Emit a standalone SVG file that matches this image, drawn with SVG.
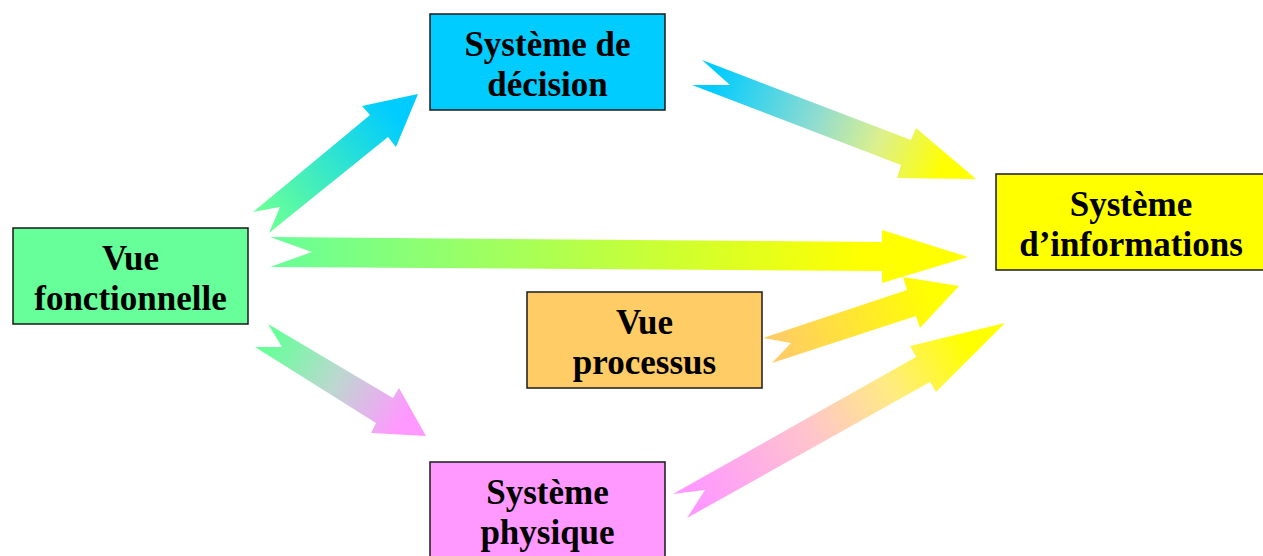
<svg xmlns="http://www.w3.org/2000/svg" width="1263" height="556" viewBox="0 0 1263 556">
<style>
.box{stroke:#1a1a1a;stroke-width:1.5}
.lbl{font-family:"Liberation Serif","Times New Roman",serif;font-weight:bold;font-size:35px;fill:#000;text-anchor:middle}
</style>
<defs>
<linearGradient id="g1" gradientUnits="userSpaceOnUse" x1="262" y1="222" x2="418" y2="94"><stop offset="0.05" stop-color="#66FF99"/><stop offset="0.85" stop-color="#00CCFF"/></linearGradient>
<linearGradient id="g2" gradientUnits="userSpaceOnUse" x1="700" y1="72" x2="976" y2="179"><stop offset="0.05" stop-color="#00CCFF"/><stop offset="0.42" stop-color="#8FDCD0"/><stop offset="0.65" stop-color="#DDF08C"/><stop offset="0.88" stop-color="#FFFF00"/></linearGradient>
<linearGradient id="g3" gradientUnits="userSpaceOnUse" x1="270" y1="252" x2="968" y2="257"><stop offset="0" stop-color="#66FF99"/><stop offset="0.85" stop-color="#FFFF00"/></linearGradient>
<linearGradient id="g4" gradientUnits="userSpaceOnUse" x1="768" y1="350" x2="959" y2="286"><stop offset="0.05" stop-color="#FFCC66"/><stop offset="0.85" stop-color="#FFFF00"/></linearGradient>
<linearGradient id="g5" gradientUnits="userSpaceOnUse" x1="680" y1="506" x2="1005" y2="323"><stop offset="0.05" stop-color="#FF99FF"/><stop offset="0.4" stop-color="#FFC4CC"/><stop offset="0.65" stop-color="#FFEC80"/><stop offset="0.88" stop-color="#FFFF00"/></linearGradient>
<linearGradient id="g6" gradientUnits="userSpaceOnUse" x1="262" y1="336" x2="426" y2="436"><stop offset="0.05" stop-color="#66FF99"/><stop offset="0.45" stop-color="#BCD8D0"/><stop offset="0.85" stop-color="#FF99FF"/></linearGradient>
</defs>
<g id="connectors">
<polygon fill="url(#g1)" points="253,212 370,115 362,106 418,94 396,147 388,137 269,233 280,207"/>
<polygon fill="url(#g2)" points="702,60 911,140 916,128 976,179 897,178 901,165 692,85 730,85"/>
<polygon fill="url(#g3)" points="270,237 882,242 882,230 968,257 882,283 882,271 270,267 312,252"/>
<polygon fill="url(#g4)" points="763,338 907,290 903,277 959,286 920,328 916,316 772,363 791,343"/>
<polygon fill="url(#g5)" points="673,494 916,357 910,346 1005,323 936,392 930,382 687,518 705,490"/>
<polygon fill="url(#g6)" points="268,324 393,398 399,388 426,436 371,433 376,423 255,347 282,347"/>
</g>
<g id="decision">
<rect class="box" x="430" y="14" width="235" height="96" fill="#00CCFF"/>
<text class="lbl" x="547.5" y="56">Système de</text>
<text class="lbl" x="547.5" y="96">décision</text>
</g>
<g id="fonctionnelle">
<rect class="box" x="13" y="228" width="235" height="96" fill="#66FF99"/>
<text class="lbl" x="130.5" y="270">Vue</text>
<text class="lbl" x="130.5" y="310">fonctionnelle</text>
</g>
<g id="informations">
<rect class="box" x="996" y="174" width="272" height="96" fill="#FFFF00"/>
<text class="lbl" x="1131" y="216">Système</text>
<text class="lbl" x="1131" y="256">d’informations</text>
</g>
<g id="processus">
<rect class="box" x="527" y="292" width="235" height="96" fill="#FFCC66"/>
<text class="lbl" x="644.5" y="334">Vue</text>
<text class="lbl" x="644.5" y="374">processus</text>
</g>
<g id="physique">
<rect class="box" x="430" y="462" width="235" height="100" fill="#FF99FF"/>
<text class="lbl" x="547.5" y="504">Système</text>
<text class="lbl" x="547.5" y="544">physique</text>
</g>
</svg>
